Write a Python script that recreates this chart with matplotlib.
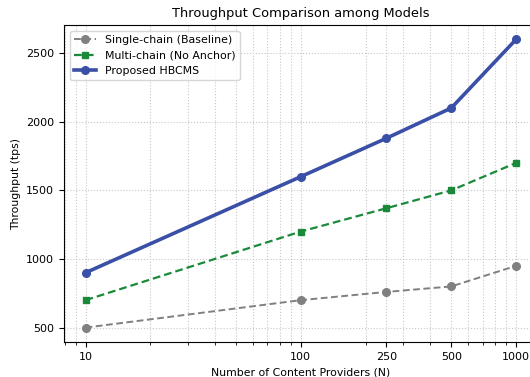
import numpy as np
import matplotlib
matplotlib.use("Agg")
import matplotlib.pyplot as plt
from matplotlib.ticker import NullFormatter

# data
providers = [10, 100, 250, 500, 1000]
single_chain = [500, 700, 760, 800, 950]
multi_chain = [700, 1200, 1370, 1500, 1700]
hbcms = [900, 1600, 1880, 2100, 2600]
xtick_labels = ["10", "100", "250", "500", "1000"]

fig = plt.figure(figsize=(5.3, 3.77), dpi=100)
ax = fig.add_axes([0.1208, 0.0928, 0.8934, 0.8408])

ax.plot(providers, single_chain, color="gray", linestyle="--", marker="o",
        markersize=5.5, linewidth=1.4, dashes=(3.5, 1.8),
        label="Single-chain (Baseline)")
ax.plot(providers, multi_chain, color="#1a8a3a", linestyle="--", marker="s",
        markersize=5, linewidth=1.6, dashes=(3.5, 1.8),
        label="Multi-chain (No Anchor)")
ax.plot(providers, hbcms, color="#3a4fa6", linestyle="-", marker="o",
        markersize=5.5, linewidth=2.6, label="Proposed HBCMS")

ax.set_xscale("log")
ax.set_xticks(providers)
ax.set_xticklabels(xtick_labels)
ax.xaxis.set_minor_formatter(NullFormatter())
ax.set_yticks([500, 1000, 1500, 2000, 2500])

ax.grid(True, which="both", linestyle=":", color="#c8c8c8", linewidth=0.8)
ax.tick_params(labelsize=8)

ax.set_title("Throughput Comparison among Models", fontsize=9.4)
ax.set_xlabel("Number of Content Providers (N)", fontsize=7.8)
ax.set_ylabel("Throughput (tps)", fontsize=7.8)
ax.legend(loc="upper left", fontsize=7.9)

fig.savefig("out.png", dpi=100)
